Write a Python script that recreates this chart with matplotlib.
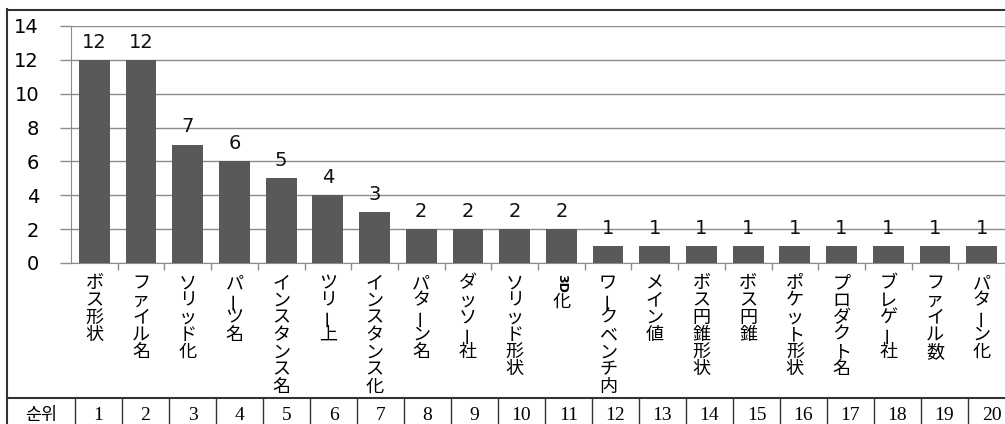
import matplotlib
matplotlib.use('Agg')
import matplotlib.pyplot as plt
from matplotlib.lines import Line2D

plt.rcParams['font.family'] = ['DejaVu Sans']

# keyword counts, ranked
keywords = ['ボス形状', 'ファイル名', 'ソリッド化', 'パーツ名', 'インスタンス名', 'ツリー上',
            'インスタンス化', 'パターン名', 'ダッソー社', 'ソリッド形状', '3D化', 'ワークベンチ内',
            'メイン値', 'ボス円錐形状', 'ボス円錐', 'ポケット形状', 'プロダクト名', 'ブレゲー社',
            'ファイル数', 'パターン化']
counts = [12, 12, 7, 6, 5, 4, 3, 2, 2, 2, 2, 1, 1, 1, 1, 1, 1, 1, 1, 1]
ranks = [1, 2, 3, 4, 5, 6, 7, 8, 9, 10, 11, 12, 13, 14, 15, 16, 17, 18, 19, 20]
rank_header = '순위'
yticks = [0, 2, 4, 6, 8, 10, 12, 14]

W, H = 1005, 424
fig = plt.figure(figsize=(W / 100, H / 100), dpi=100)
ax = fig.add_axes([71 / W, 1 - 263 / H, (W - 71) / W, 237 / H])

x = range(len(counts))
ax.bar(x, counts, width=0.66, color='#595959', zorder=3)
ax.set_xlim(-0.5, len(counts) - 0.5)
ax.set_ylim(0, 14)
ax.set_yticks(yticks)
ax.set_yticklabels([str(t) for t in yticks], fontsize=14)
ax.grid(axis='y', color='#8c8c8c', lw=1, zorder=0)
ax.tick_params(axis='y', length=8, width=1, color='#8c8c8c', pad=15)
ax.set_xticks([i + 0.5 for i in range(len(counts) - 1)])
ax.set_xticklabels([])
ax.tick_params(axis='x', length=5, width=1, color='#8c8c8c')
for s in ['top', 'right']:
    ax.spines[s].set_visible(False)
for s in ['left', 'bottom']:
    ax.spines[s].set_color('#8c8c8c')

# value labels above bars
for i, v in enumerate(counts):
    ax.annotate(str(v), xy=(i, v), xytext=(0, 6), textcoords='offset points',
                ha='center', va='bottom', fontsize=14, color='#111111')

# vertical (top-to-bottom) category labels, one glyph at a time
pitch = 12.4
jp = ['Noto Sans CJK JP', 'DejaVu Sans']
for i, word in enumerate(keywords):
    y = -7
    if word.startswith('3D'):
        # half-width letters lie on their side in vertical writing
        ax.annotate('3D', xy=(i, 0), xytext=(0, y - 1), textcoords='offset points',
                    ha='center', va='top', rotation=-90, fontsize=9,
                    family='DejaVu Sans', fontweight='bold')
        word = word[2:]
        y -= 13.5
    for ch in word:
        rot = 90 if ch == 'ー' else 0
        ax.annotate(ch, xy=(i, 0), xytext=(0, y - pitch / 2),
                    textcoords='offset points', ha='center', va='center_baseline',
                    rotation=rot, fontsize=13, family=jp)
        y -= pitch

# frame and rank table
line_kw = dict(transform=fig.transFigure, color='#333333', lw=1.5)
fig.add_artist(Line2D([7 / W, 7 / W], [0, 1 - 9 / H], **line_kw))
fig.add_artist(Line2D([7 / W, 1], [1 - 10 / H, 1 - 10 / H], **line_kw))
fig.add_artist(Line2D([7 / W, 1], [1 - 398 / H, 1 - 398 / H], **line_kw))
cell_left, cell_w = 75, 47
fig.text(41 / W, 1 - 415 / H, rank_header, ha='center', va='center', fontsize=12.5,
         family=['Noto Sans CJK KR'])
for k, r in enumerate(ranks):
    xl = cell_left + k * cell_w
    fig.add_artist(Line2D([xl / W, xl / W], [0, 1 - 398 / H], transform=fig.transFigure,
                          color='#333333', lw=1))
    fig.text((xl + cell_w / 2) / W, 1 - 415 / H, str(r), ha='center', va='center',
             fontsize=14, family='Liberation Serif')

fig.savefig('out.png', dpi=100)
